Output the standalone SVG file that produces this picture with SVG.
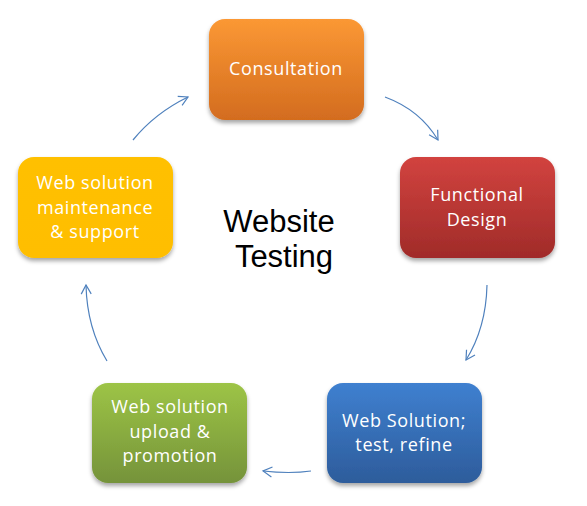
<svg xmlns="http://www.w3.org/2000/svg" width="587" height="506" viewBox="0 0 587 506">
  <defs>
    <linearGradient id="gOrange" x1="0" y1="0" x2="0" y2="1">
      <stop offset="0" stop-color="#FB9834"/>
      <stop offset="1" stop-color="#D36C1F"/>
    </linearGradient>
    <linearGradient id="gRed" x1="0" y1="0" x2="0" y2="1">
      <stop offset="0" stop-color="#D2433F"/>
      <stop offset="1" stop-color="#A02B29"/>
    </linearGradient>
    <linearGradient id="gYellow" x1="0" y1="0" x2="0" y2="1">
      <stop offset="0" stop-color="#FFC000"/>
      <stop offset="1" stop-color="#FFBE00"/>
    </linearGradient>
    <linearGradient id="gGreen" x1="0" y1="0" x2="0" y2="1">
      <stop offset="0" stop-color="#9DC446"/>
      <stop offset="1" stop-color="#75933A"/>
    </linearGradient>
    <linearGradient id="gBlue" x1="0" y1="0" x2="0" y2="1">
      <stop offset="0" stop-color="#3F80D0"/>
      <stop offset="1" stop-color="#2D5C9B"/>
    </linearGradient>
    <filter id="shadow" x="-10%" y="-10%" width="120%" height="130%">
      <feDropShadow dx="0" dy="3" stdDeviation="2" flood-color="#000" flood-opacity="0.35"/>
    </filter>
    <marker id="arrow" markerWidth="12" markerHeight="12" refX="10" refY="6" orient="auto" markerUnits="userSpaceOnUse">
      <path d="M1,1 L10,6 L1,11" fill="none" stroke="#4F81BD" stroke-width="1.2"/>
    </marker>
  </defs>
  <style>
    .box { filter: url(#shadow); }
    .lbl { font-family: "Open Sans", "Liberation Sans", sans-serif; font-size: 18px; letter-spacing: 0.6px; fill: #FFFFFF; text-anchor: middle; }
    .conn { fill: none; stroke: #4F81BD; stroke-width: 1.2; marker-end: url(#arrow); }
    .title { font-family: "Liberation Sans", Arial, sans-serif; font-size: 31px; fill: #000; text-anchor: middle; }
  </style>
  <rect width="587" height="506" fill="#FFFFFF"/>

  <g id="connectors">
    <path class="conn" d="M133,140 Q155,113 188,97"/>
    <path class="conn" d="M385,97 Q420,110 438,140"/>
    <path class="conn" d="M487,285 Q486,328 466,360"/>
    <path class="conn" d="M311,471 Q290,474 263,471"/>
    <path class="conn" d="M107,361 Q87,328 86,285"/>
  </g>

  <g id="consultation">
    <rect class="box" x="209" y="19" width="155" height="101" rx="16" fill="url(#gOrange)"/>
    <text class="lbl" x="286" y="75">Consultation</text>
  </g>

  <g id="functional-design">
    <rect class="box" x="400" y="157" width="155" height="101" rx="16" fill="url(#gRed)"/>
    <text class="lbl" x="477" y="201">Functional</text>
    <text class="lbl" x="477" y="226">Design</text>
  </g>

  <g id="web-solution-test">
    <rect class="box" x="327" y="383" width="155" height="100" rx="16" fill="url(#gBlue)"/>
    <text class="lbl" x="404" y="427">Web Solution;</text>
    <text class="lbl" x="404" y="451">test, refine</text>
  </g>

  <g id="upload-promotion">
    <rect class="box" x="92" y="383" width="155" height="100" rx="16" fill="url(#gGreen)"/>
    <text class="lbl" x="170" y="413">Web solution</text>
    <text class="lbl" x="170" y="438">upload &amp;</text>
    <text class="lbl" x="170" y="462">promotion</text>
  </g>

  <g id="maintenance-support">
    <rect class="box" x="18" y="157" width="155" height="101" rx="16" fill="url(#gYellow)"/>
    <text class="lbl" x="95" y="189">Web solution</text>
    <text class="lbl" x="95" y="214">maintenance</text>
    <text class="lbl" x="95" y="238">&amp; support</text>
  </g>

  <g id="center-title">
    <text class="title" x="279" y="232">Website</text>
    <text class="title" x="284" y="267">Testing</text>
  </g>
</svg>
